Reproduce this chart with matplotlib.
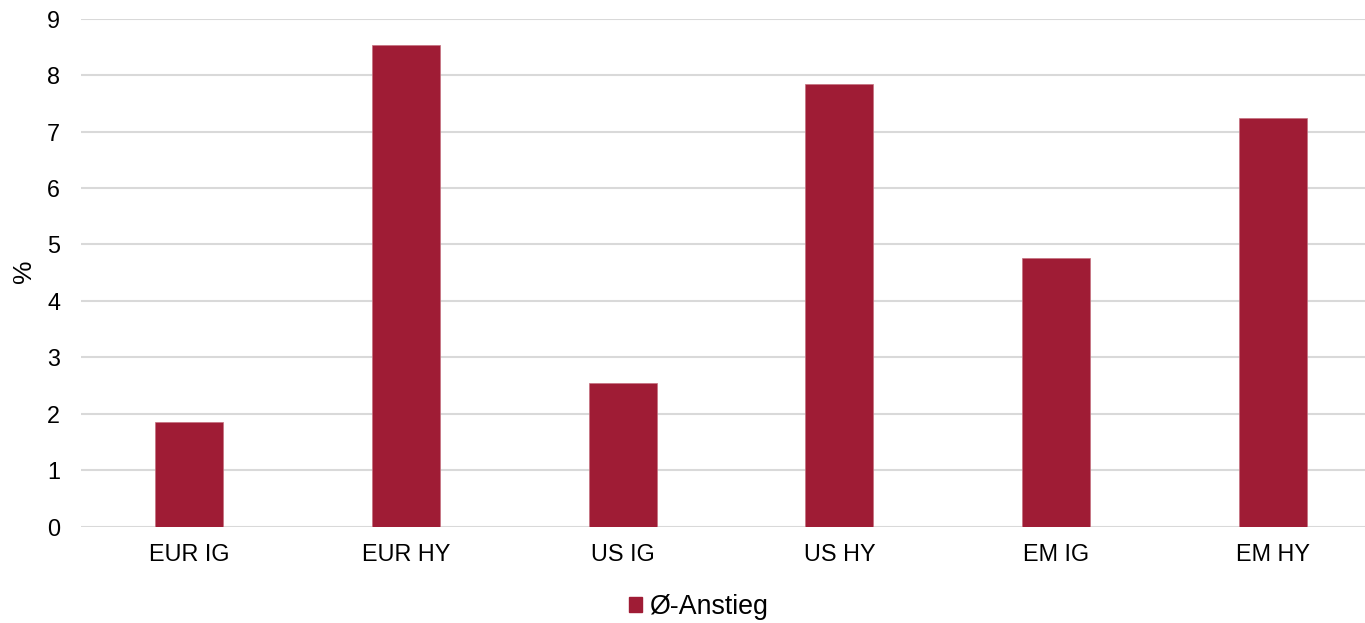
import matplotlib
matplotlib.use("Agg")
import matplotlib.pyplot as plt
from matplotlib.patches import Patch

categories = ["EUR IG", "EUR HY", "US IG", "US HY", "EM IG", "EM HY"]
values = [1.86, 8.53, 2.54, 7.84, 4.76, 7.24]
yticks = [0, 1, 2, 3, 4, 5, 6, 7, 8, 9]
series_name = "Ø-Anstieg"

bar_color = "#9F1C35"
grid_color = "#D9D9D9"

plt.rcParams['font.family'] = ['Liberation Sans', 'DejaVu Sans']
plt.rcParams['font.size'] = 16.8

fig = plt.figure(figsize=(13.65, 6.23), dpi=100)
ax = fig.add_axes([81 / 1365, 1 - 526.7 / 623, 1300 / 1365, (526.7 - 18.7) / 623])

x = range(len(categories))
ax.bar(x, values, width=0.314, color=bar_color, edgecolor="#C4707F", linewidth=0.5, zorder=3)

ax.set_xlim(-0.5, len(categories) - 0.5)
ax.set_ylim(0, 9)
ax.set_yticks(yticks)
ax.set_xticks(list(x))
ax.set_xticklabels(categories)

for y in yticks:
    ax.axhline(y, color=grid_color, linewidth=1.5, zorder=1)

for s in ax.spines.values():
    s.set_visible(False)
ax.tick_params(axis="both", length=0, colors="black")
ax.tick_params(axis="y", pad=15)
ax.tick_params(axis="x", pad=12)

fig.text(24 / 1365, 1 - 271 / 623, "%", rotation=90, ha="center", va="center", fontsize=19)

fig.legend(handles=[Patch(color=bar_color, label=series_name)],
           loc="center", bbox_to_anchor=(698 / 1365, 1 - 607 / 623),
           frameon=False, fontsize=19.3, handlelength=0.5, handleheight=0.5,
           handletextpad=0.25, borderpad=0)

fig.savefig("out.png", dpi=100)
